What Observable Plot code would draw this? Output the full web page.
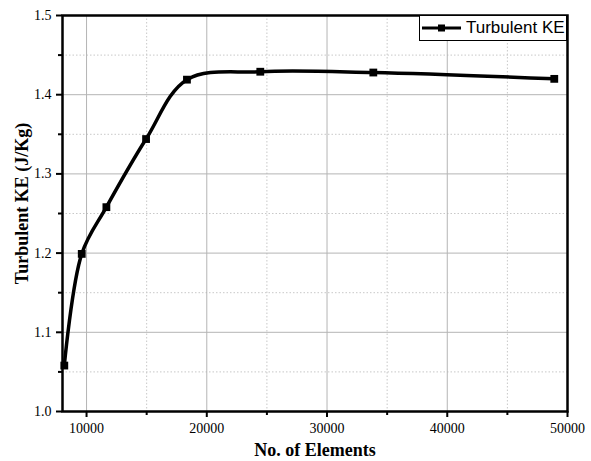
<!DOCTYPE html>
<html>
<head>
<meta charset="utf-8">
<script src="https://cdn.jsdelivr.net/npm/d3@7"></script>
<script src="https://cdn.jsdelivr.net/npm/@observablehq/plot@0.6"></script>
<style>
  html, body { margin: 0; padding: 0; background: #fff; }
  #wrap { position: relative; width: 591px; height: 461px; }
  #legend {
    position: absolute; left: 419px; top: 15px; width: 148px; height: 26px;
    box-sizing: border-box; border: 1px solid #000; background: #fff;
    display: flex; align-items: center; font-family: "Liberation Sans", Arial, sans-serif; font-size: 17px;
  }
  #legend svg { margin-left: 1px; margin-right: 4px; }
</style>
</head>
<body>
<div id="wrap"></div>
<script>
const elements = [8150, 9600, 11650, 14950, 18350, 24450, 33850, 48900];
const turbulentKE = [1.058, 1.199, 1.258, 1.344, 1.419, 1.429, 1.428, 1.420];
const xMajorTicks = [10000, 20000, 30000, 40000, 50000];
const xMinorTicks = [15000, 25000, 35000, 45000];
const yMajorTicks = [1.0, 1.1, 1.2, 1.3, 1.4, 1.5];
const yMinorTicks = [1.05, 1.15, 1.25, 1.35, 1.45];
const seriesName = "Turbulent KE";
const xTitle = "No. of Elements";
const yTitle = "Turbulent KE (J/Kg)";

const data = elements.map((x, i) => ({x, y: turbulentKE[i]}));

const chart = Plot.plot({
  width: 591,
  height: 461,
  marginLeft: 62,
  marginRight: 24,
  marginTop: 15,
  marginBottom: 50,
  style: {fontFamily: "'Liberation Serif', 'Times New Roman', serif", fontSize: "14px", color: "#000", background: "#fff"},
  x: {domain: [8000, 50000]},
  y: {domain: [1.0, 1.5]},
  marks: [
    Plot.gridX(xMinorTicks, {stroke: "#c8c8c8", strokeOpacity: 1, strokeDasharray: "1.5,2", strokeWidth: 1}),
    Plot.gridY(yMinorTicks, {stroke: "#c8c8c8", strokeOpacity: 1, strokeDasharray: "1.5,2", strokeWidth: 1}),
    Plot.gridX(xMajorTicks, {stroke: "#b4b4b4", strokeOpacity: 1, strokeWidth: 1}),
    Plot.gridY(yMajorTicks, {stroke: "#b4b4b4", strokeOpacity: 1, strokeWidth: 1}),
    Plot.axisX(xMajorTicks, {tickSize: 6, tickPadding: 6, strokeWidth: 2, fontSize: 14, tickFormat: d => String(d), label: null}),
    Plot.axisX(xMinorTicks, {tickSize: 4, strokeWidth: 2, text: null, label: null}),
    Plot.axisY(yMajorTicks, {tickSize: 6, tickPadding: 5, strokeWidth: 2, fontSize: 14, tickFormat: d3.format(".1f"), label: null}),
    Plot.axisY(yMinorTicks, {tickSize: 4, strokeWidth: 2, text: null, label: null}),
    Plot.text([xTitle], {frameAnchor: "bottom", dy: 44, text: d => d, fontWeight: "bold", fontSize: 18}),
    Plot.text([yTitle], {frameAnchor: "left", textAnchor: "middle", dx: -40, dy: -10, rotate: -90, text: d => d, fontWeight: "bold", fontSize: 18}),
    Plot.line(data, {x: "x", y: "y", curve: "catmull-rom", stroke: "#000", strokeWidth: 3.5}),
    Plot.dot(data, {x: "x", y: "y", symbol: "square", r: 4.4, fill: "#000", stroke: "none"}),
    Plot.frame({stroke: "#000", strokeWidth: 2.5})
  ]
});
const wrap = document.getElementById("wrap");
wrap.appendChild(chart);
const legend = document.createElement("div");
legend.id = "legend";
legend.innerHTML = `<svg width="41" height="12"><line x1="1" y1="6" x2="40" y2="6" stroke="#000" stroke-width="3"/><rect x="17" y="2.5" width="7" height="7" fill="#000"/></svg><span>${seriesName}</span>`;
wrap.appendChild(legend);
</script>
</body>
</html>
